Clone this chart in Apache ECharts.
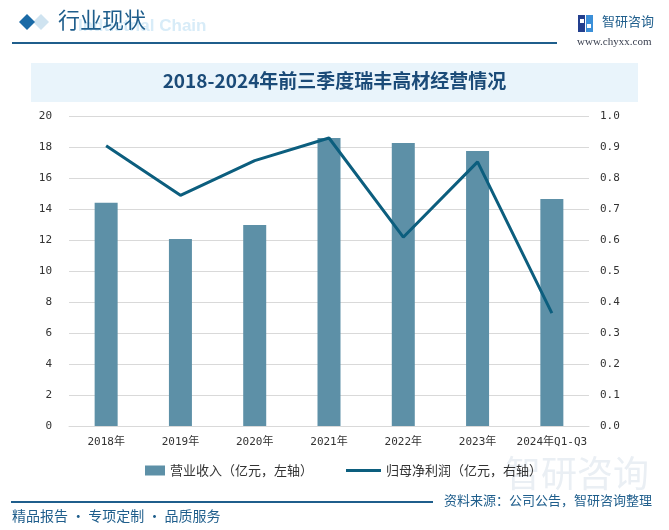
<!DOCTYPE html>
<html>
<head>
<meta charset="utf-8">
<style>
html,body{margin:0;padding:0;background:#fff;}
#chart{width:669px;height:530px;}
</style>
<script src="https://cdn.jsdelivr.net/npm/echarts@6/dist/echarts.min.js"></script>
</head>
<body>
<div id="chart"></div>
<script>
const categories = ['2018年','2019年','2020年','2021年','2022年','2023年','2024年Q1-Q3'];
const revenue = [14.41, 12.06, 12.97, 18.58, 18.26, 17.74, 14.65];
const profit = [0.904, 0.744, 0.856, 0.929, 0.609, 0.852, 0.364];
const leftTicks = {min: 0, max: 20, interval: 2};
const rightTicks = {min: 0, max: 1, interval: 0.1};

const MONO = '"DejaVu Sans Mono","Noto Sans CJK SC",monospace';
const CJK = '"Noto Sans CJK SC","Noto Sans",sans-serif';
const BLUE = '#1f5e8c';
const chart = echarts.init(document.getElementById('chart'), null, {renderer: 'canvas'});

chart.setOption({
  backgroundColor: '#ffffff',
  animation: false,
  graphic: [
    // header decorations
    {type: 'polygon', shape: {points: [[41,14],[49,22],[41,30],[33,22]]}, style: {fill: '#cfe3f0'}},
    {type: 'polygon', shape: {points: [[27,14],[35,22],[27,30],[19,22]]}, style: {fill: '#1a6aa6'}},
    {type: 'text', left: 78, top: 18, style: {text: 'Industrial Chain', fill: '#d8ecf8', font: 'bold 17px "Liberation Sans",Arial,sans-serif'}},
    {type: 'text', left: 58, top: 9, style: {text: '行业现状', fill: BLUE, font: '22px ' + CJK}},
    {type: 'rect', shape: {x: 12, y: 42, width: 545, height: 2}, style: {fill: '#1f5e8c'}},
    // logo
    {type: 'rect', shape: {x: 578, y: 15, width: 7, height: 17}, style: {fill: '#233f8e'}},
    {type: 'rect', shape: {x: 586, y: 15, width: 7, height: 17}, style: {fill: '#3b8fd8'}},
    {type: 'rect', shape: {x: 580, y: 19, width: 4, height: 4}, style: {fill: '#ffffff'}},
    {type: 'rect', shape: {x: 587, y: 24, width: 4, height: 4}, style: {fill: '#ffffff'}},
    {type: 'text', left: 602, top: 15, style: {text: '智研咨询', fill: BLUE, font: '13px ' + CJK}},
    {type: 'text', left: 577, top: 37, style: {text: 'www.chyxx.com', fill: '#3a4050', font: '11px "Liberation Serif",serif'}},
    // title band
    {type: 'rect', shape: {x: 31, y: 63, width: 607, height: 39}, style: {fill: '#e9f4fb'}},
    {type: 'text', left: 'center', top: 71, style: {text: '2018-2024年前三季度瑞丰高材经营情况', fill: '#1b4b78', font: 'bold 19px ' + CJK}},
    // bottom watermark
    {type: 'text', left: 505, top: 455, style: {text: '智研咨询', fill: '#eaeff4', font: '36px ' + CJK}},
    // footer
    {type: 'rect', shape: {x: 11, y: 501, width: 422, height: 2}, style: {fill: '#1f5e8c'}},
    {type: 'text', left: 444, top: 494, style: {text: '资料来源：公司公告，智研咨询整理', fill: BLUE, font: '13px ' + CJK}},
    {type: 'text', left: 12, top: 509, style: {text: '精品报告 · 专项定制 · 品质服务', fill: BLUE, font: '14px ' + CJK}}
  ],
  grid: {left: 69, right: 80, top: 116, bottom: 104},
  legend: [
    {
      data: [{name: '营业收入（亿元，左轴）', icon: 'rect'}],
      left: 140, top: 459, itemWidth: 20, itemHeight: 10, itemGap: 6,
      textStyle: {fontFamily: CJK, fontSize: 13, color: '#333'}
    },
    {
      data: [{name: '归母净利润（亿元，右轴）', icon: 'rect'}],
      left: 341, top: 459, itemWidth: 35, itemHeight: 3,
      textStyle: {fontFamily: CJK, fontSize: 13, color: '#333'}
    }
  ],
  xAxis: {
    type: 'category',
    data: categories,
    axisLine: {show: true, lineStyle: {color: '#d9d9d9'}},
    axisTick: {show: false},
    axisLabel: {color: '#333', fontFamily: MONO, fontSize: 11, margin: 11, interval: 0}
  },
  yAxis: [
    {
      type: 'value', min: leftTicks.min, max: leftTicks.max, interval: leftTicks.interval,
      axisLine: {show: false}, axisTick: {show: false},
      axisLabel: {color: '#333', fontFamily: MONO, fontSize: 11, margin: 17},
      splitLine: {lineStyle: {color: '#d9d9d9'}}
    },
    {
      type: 'value', min: rightTicks.min, max: rightTicks.max, interval: rightTicks.interval,
      axisLine: {show: false}, axisTick: {show: false},
      axisLabel: {color: '#333', fontFamily: MONO, fontSize: 11, margin: 11, formatter: v => v.toFixed(1)},
      splitLine: {show: false}
    }
  ],
  series: [
    {
      name: '营业收入（亿元，左轴）', type: 'bar', data: revenue, yAxisIndex: 0,
      barWidth: 23, itemStyle: {color: '#5d90a7'}
    },
    {
      name: '归母净利润（亿元，右轴）', type: 'line', data: profit, yAxisIndex: 1,
      symbol: 'none', lineStyle: {color: '#0c5e7e', width: 3}, itemStyle: {color: '#0c5e7e'}
    }
  ]
});
</script>
</body>
</html>
